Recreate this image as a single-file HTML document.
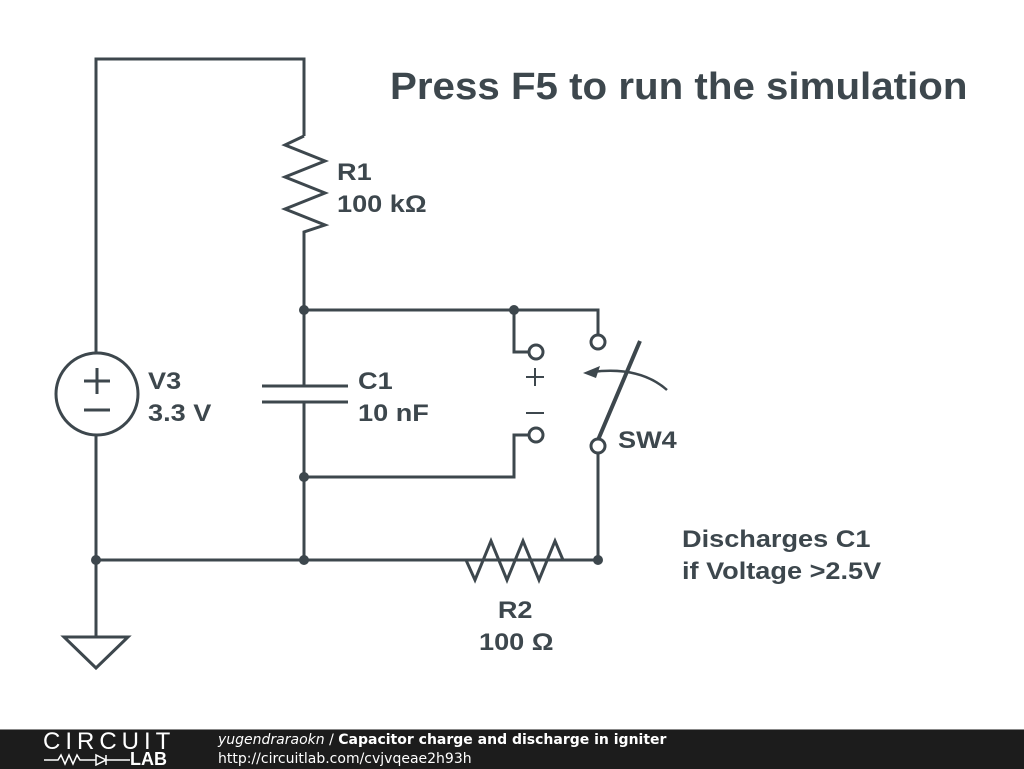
<!DOCTYPE html>
<html><head><meta charset="utf-8"><style>
body{margin:0;width:1024px;height:768px;background:#fff;overflow:hidden;position:relative;font-family:"Liberation Sans",sans-serif}
.t{position:absolute;color:#3d474d;font-weight:bold;font-size:24px;line-height:32px;transform:scaleX(1.13);transform-origin:0 0;white-space:nowrap}
#foot{position:absolute;left:0;top:729px;width:1024px;height:39px;background:#1c1c1c;border-top:1px solid #888}
</style></head><body>
<svg width="1024" height="768" style="position:absolute;left:0;top:0" fill="none" stroke="#3d474d" stroke-width="3">
<path d="M96 352V59H304V136"/>
<polyline points="304,136 285,145 325,161 285,177 325,193 285,209 325,225 304,232 304,386"/>
<circle cx="97" cy="394" r="41"/>
<path d="M84 381H110M97 368V394M84 410H110"/>
<path d="M96 435V637"/>
<path d="M64 637H128L96 668Z"/>
<path d="M262 386H348M262 402H348M304 402V560"/>
<path d="M304 310H598V335"/>
<circle cx="598" cy="342" r="7" fill="#fff"/>
<path d="M514 310V352H529"/>
<circle cx="536" cy="352" r="7" fill="#fff"/>
<path d="M304 477H514V435H529"/>
<circle cx="536" cy="435" r="7" fill="#fff"/>
<path d="M526 377H544M535 368V386M526 413H544" stroke-width="2"/>
<path d="M598 440L640 341" stroke-width="4"/>
<circle cx="598" cy="446" r="7" fill="#fff"/>
<path d="M598 453V560"/>
<path d="M667 390Q640 366 592 372" stroke-width="2.5"/>
<path d="M583 373L600 366L596 378Z" fill="#3d474d" stroke="none"/>
<path d="M96 560H598"/>
<polyline points="466,560 475,580 491,541 507,580 523,541 539,580 555,541 563,560"/>
<g fill="#3d474d" stroke="none">
<circle cx="304" cy="310" r="5"/><circle cx="514" cy="310" r="5"/><circle cx="304" cy="477" r="5"/>
<circle cx="96" cy="560" r="5"/><circle cx="304" cy="560" r="5"/><circle cx="598" cy="560" r="5"/>
</g>
</svg>
<div class="t" style="left:390px;top:63px;font-size:38px;line-height:48px;transform:scaleX(1.06)">Press F5 to run the simulation</div>
<div class="t" style="left:337px;top:157px">R1<br>100 kΩ</div>
<div class="t" style="left:148px;top:366px">V3<br>3.3 V</div>
<div class="t" style="left:358px;top:366px">C1<br>10 nF</div>
<div class="t" style="left:618px;top:425px">SW4</div>
<div class="t" style="left:682px;top:524px">Discharges C1<br>if Voltage &gt;2.5V</div>
<div class="t" style="left:479px;top:595px;text-align:center;width:64px">R2<br>100 Ω</div>
<div id="foot">
<div style="position:absolute;left:43px;top:0px;color:#fff;font-size:24px;letter-spacing:5px;line-height:24px;font-weight:300">CIRCUIT</div>
<svg width="100" height="14" style="position:absolute;left:44px;top:22px" fill="none" stroke="#fff" stroke-width="1.5">
<path d="M0 8H14L17 3L21 12L25 3L29 12L33 3L36 8H52M52 3V13L62 8ZM62 3V13M62 8H86"/>
</svg>
<div style="position:absolute;left:130px;top:21px;color:#fff;font-size:18px;font-weight:bold;line-height:17px">LAB</div>
<div style="position:absolute;left:218px;top:1px;color:#fff;font-family:'DejaVu Sans',sans-serif;font-size:14px;line-height:19px"><i>yugendraraokn</i> / <b>Capacitor charge and discharge in igniter</b><br>http://circuitlab.com/cvjvqeae2h93h</div>
</div>
</body></html>
